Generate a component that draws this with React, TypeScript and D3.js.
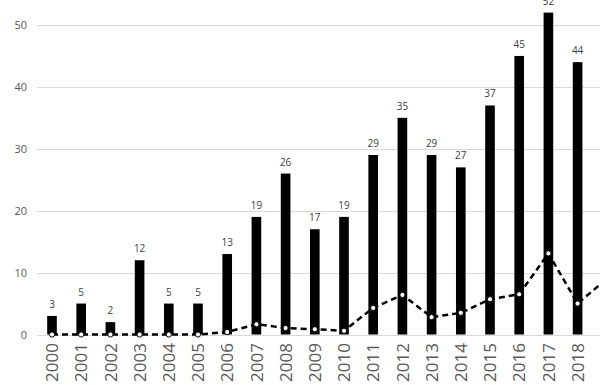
import React, { useEffect, useRef } from 'react';
import * as d3 from 'd3';

const years = ['2000', '2001', '2002', '2003', '2004', '2005', '2006', '2007', '2008', '2009',
  '2010', '2011', '2012', '2013', '2014', '2015', '2016', '2017', '2018', '2019'];
// bar counts (2019 falls outside the visible frame)
const counts: (number | null)[] = [3, 5, 2, 12, 5, 5, 13, 19, 26, 17, 19, 29, 35, 29, 27, 37, 45, 52, 44, null];
// dashed series
const trend = [0, 0, 0, 0, 0, 0, 0.4, 1.65, 1.05, 0.85, 0.6, 4.3, 6.4, 2.8, 3.5, 5.7, 6.5, 13.1, 5.0, 9];
const yTicks = [0, 10, 20, 30, 40, 50];

const App: React.FC = () => {
  const svgRef = useRef<SVGSVGElement>(null);

  useEffect(() => {
    if (!svgRef.current) return;
    const svg = d3.select(svgRef.current);
    svg.selectAll('*').remove();

    const font = 'Open Sans, sans-serif';

    const x = d3.scaleBand<string>()
      .domain(years)
      .range([37.4, 37.4 + years.length * 29.2])
      .paddingInner(0.67)
      .paddingOuter(0.335);
    const cx = (d: string) => (x(d) as number) + x.bandwidth() / 2;

    const y = d3.scaleLinear().domain([0, 50]).range([334.5, 25]);

    // gridlines
    svg.append('g')
      .selectAll('line')
      .data(yTicks)
      .join('line')
      .attr('x1', 37)
      .attr('x2', 600)
      .attr('y1', d => Math.round(y(d)) + 0.5)
      .attr('y2', d => Math.round(y(d)) + 0.5)
      .attr('stroke', '#d9d9d9')
      .attr('stroke-width', 1);

    // y labels
    svg.append('g')
      .selectAll('text')
      .data(yTicks)
      .join('text')
      .attr('x', 27)
      .attr('y', d => y(d) + 4)
      .attr('text-anchor', 'end')
      .attr('fill', '#595959')
      .attr('font-family', font)
      .attr('font-size', 11)
      .text(d => d);

    const barData = years.map((yr, i) => ({ yr, v: counts[i] })).filter(d => d.v !== null) as { yr: string; v: number }[];

    // bars
    svg.append('g')
      .selectAll('rect')
      .data(barData)
      .join('rect')
      .attr('x', d => x(d.yr) as number)
      .attr('width', x.bandwidth())
      .attr('y', d => y(d.v))
      .attr('height', d => y(0) - y(d.v))
      .attr('fill', '#000');

    // value labels
    svg.append('g')
      .selectAll('text')
      .data(barData)
      .join('text')
      .attr('x', d => cx(d.yr))
      .attr('y', d => y(d.v) - 8)
      .attr('text-anchor', 'middle')
      .attr('fill', '#404040')
      .attr('font-family', font)
      .attr('font-size', 10)
      .text(d => d.v);

    // dashed line
    const line = d3.line<number>()
      .x((_, i) => cx(years[i]))
      .y(d => y(d));
    svg.append('path')
      .datum(trend)
      .attr('d', line)
      .attr('fill', 'none')
      .attr('stroke', '#000')
      .attr('stroke-width', 2.5)
      .attr('stroke-dasharray', '6,4');

    svg.append('g')
      .selectAll('circle')
      .data(trend)
      .join('circle')
      .attr('cx', (_, i) => cx(years[i]))
      .attr('cy', d => y(d))
      .attr('r', 2.6)
      .attr('fill', '#fff')
      .attr('stroke', '#000')
      .attr('stroke-width', 1);

    // x labels (rotated)
    const fs = 17;
    svg.append('g')
      .selectAll('text')
      .data(years)
      .join('text')
      .attr('transform', d => `translate(${cx(d) + fs * 0.36},${343}) rotate(-90)`)
      .attr('text-anchor', 'end')
      .attr('fill', '#595959')
      .attr('font-family', font)
      .attr('font-size', fs)
      .text(d => d);
  }, []);

  return (
    <svg
      ref={svgRef}
      width={600}
      height={385}
      style={{ position: 'absolute', left: 0, top: 0, background: '#fff' }}
    />
  );
};

export default App;
